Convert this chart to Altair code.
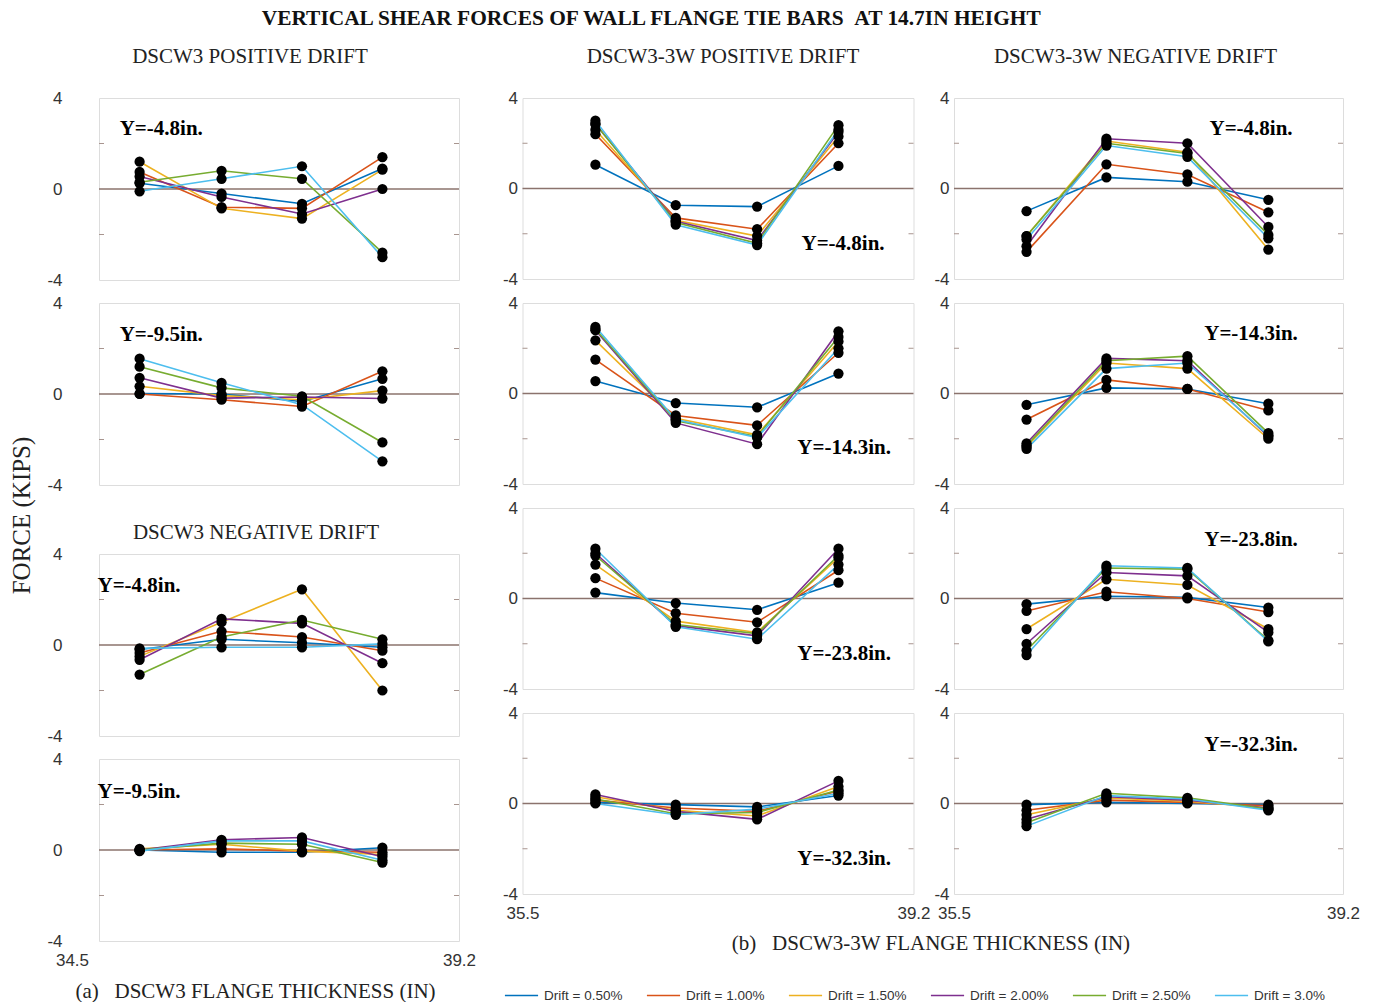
import altair as alt
import pandas as pd

DRIFTS = ["Drift = 0.50%", "Drift = 1.00%", "Drift = 1.50%",
          "Drift = 2.00%", "Drift = 2.50%", "Drift = 3.0%"]
COLORS = ["#0072BD", "#D95319", "#EDB120", "#7E2F8E", "#77AC30", "#4DBEEE"]

# tie-bar positions along the flange (in)
X_DSCW3 = [35.03, 36.10, 37.15, 38.20]
X_DSCW3_3W = [36.19, 36.95, 37.72, 38.49]

# rows: Drift 0.50%, 1.00%, 1.50%, 2.00%, 2.50%, 3.0% ; columns: 4 tie bars (kips)
DSCW3_POS_48 = [[0.25, -0.2, -0.65, 0.9], [0.75, -0.8, -0.85, 1.4], [1.2, -0.85, -1.3, 0.85],
                [0.55, -0.35, -1.1, 0.0], [0.3, 0.8, 0.45, -2.8], [-0.1, 0.45, 1.0, -3.0]]
DSCW3_POS_95 = [[0.02, 0.0, -0.33, 0.67], [0.0, -0.25, -0.55, 1.0], [0.34, -0.07, -0.25, 0.15],
                [0.71, -0.18, -0.13, -0.2], [1.2, 0.27, -0.1, -2.13], [1.55, 0.49, -0.47, -2.96]]
DSCW3_NEG_48 = [[-0.2, 0.25, 0.1, -0.1], [-0.35, 0.6, 0.35, -0.25], [-0.5, 1.0, 2.45, -2.0],
                [-0.65, 1.15, 0.95, -0.8], [-1.3, 0.35, 1.1, 0.25], [-0.15, -0.1, -0.1, 0.05]]
DSCW3_NEG_95 = [[0.0, -0.1, -0.1, 0.1], [0.0, 0.05, -0.05, -0.1], [0.05, 0.25, -0.05, -0.2],
                [0.0, 0.45, 0.55, -0.3], [0.0, 0.3, 0.25, -0.55], [-0.05, 0.4, 0.4, -0.45]]

W3_POS_48 = [[1.05, -0.74, -0.8, 1.0], [2.4, -1.3, -1.8, 2.0], [2.6, -1.4, -2.1, 2.3],
             [2.85, -1.45, -2.3, 2.5], [2.85, -1.5, -2.42, 2.8], [3.0, -1.6, -2.5, 2.6]]
W3_POS_143 = [[0.55, -0.42, -0.61, 0.88], [1.5, -0.97, -1.41, 1.8], [2.35, -1.1, -1.83, 2.3],
              [2.8, -1.3, -2.24, 2.75], [2.85, -1.2, -1.9, 2.5], [2.95, -1.15, -1.95, 2.0]]
W3_POS_238 = [[0.26, -0.2, -0.5, 0.7], [0.9, -0.65, -1.05, 1.25], [1.5, -1.0, -1.5, 1.8],
              [2.0, -1.2, -1.65, 2.2], [1.9, -1.15, -1.55, 1.9], [2.2, -1.25, -1.8, 1.5]]
W3_POS_323 = [[0.05, -0.05, -0.15, 0.35], [0.15, -0.2, -0.35, 0.55], [0.3, -0.3, -0.55, 0.75],
              [0.4, -0.35, -0.7, 1.0], [0.2, -0.45, -0.4, 0.6], [0.0, -0.5, -0.25, 0.45]]

W3_NEG_48 = [[-1.0, 0.49, 0.3, -0.5], [-2.8, 1.07, 0.62, -1.05], [-2.1, 2.1, 1.6, -2.7],
             [-2.55, 2.2, 2.0, -1.7], [-2.1, 2.0, 1.55, -2.05], [-2.25, 1.9, 1.4, -2.2]]
W3_NEG_143 = [[-0.5, 0.25, 0.2, -0.45], [-1.15, 0.6, 0.2, -0.75], [-2.35, 1.35, 1.1, -2.0],
              [-2.2, 1.55, 1.45, -1.9], [-2.3, 1.45, 1.65, -1.75], [-2.45, 1.1, 1.35, -1.85]]
W3_NEG_238 = [[-0.25, 0.1, 0.05, -0.4], [-0.55, 0.3, 0.0, -0.6], [-1.35, 0.85, 0.6, -1.35],
              [-2.0, 1.15, 1.0, -1.5], [-2.3, 1.35, 1.3, -1.85], [-2.5, 1.45, 1.35, -1.9]]
W3_NEG_323 = [[-0.05, 0.05, 0.0, -0.05], [-0.3, 0.15, 0.05, -0.1], [-0.5, 0.25, 0.1, -0.2],
              [-0.7, 0.3, 0.15, -0.2], [-0.85, 0.45, 0.25, -0.25], [-1.0, 0.35, 0.2, -0.3]]

FRAME = "#a8958f"
ZERO = "#8b736d"
SERIF = "Liberation Serif"
SANS = "Liberation Sans"
NB = "\u00a0"

LEGEND = alt.Legend(orient="none", legendX=405, legendY=880, direction="horizontal",
                    columns=6, title=None, symbolType="stroke", symbolSize=1100,
                    symbolStrokeWidth=1.5, labelFont=SANS, labelFontSize=13.5,
                    labelColor="#333", columnPadding=20, labelOffset=5)


def make_df(vals, xs):
    rows = []
    for d, series in zip(DRIFTS, vals):
        for i, (x, v) in enumerate(zip(xs, series)):
            rows.append({"drift": d, "x": x, "f": v, "i": i})
    return pd.DataFrame(rows)


def panel(vals, xs, xdom, label, lpos, w, h, ypad, xlabels=None, xtitle=None,
          xtitle_x=None, title=None, label_shift=0):
    df = make_df(vals, xs)
    if xlabels is not None:
        ax = dict(values=xlabels, labelExpr="format(datum.value, '.1f')", labelFlush=False,
                  ticks=False, domain=False,
                  grid=False, labelFont=SANS, labelFontSize=17, labelColor="#333",
                  labelPadding=11,
                  labelOffset={"condition": {"test": "datum.value < 35", "value": label_shift},
                               "value": 0})
        if xtitle:
            ax.update(titleFont=SERIF, titleFontSize=21, titleFontWeight="normal",
                      titleColor="#222", titlePadding=12)
            if xtitle_x is not None:
                ax.update(titleX=xtitle_x, titleAlign="center")
        X = alt.X("x:Q", scale=alt.Scale(domain=xdom, nice=False, zero=False),
                  axis=alt.Axis(**ax), title=xtitle if xtitle else None)
    else:
        X = alt.X("x:Q", scale=alt.Scale(domain=xdom, nice=False, zero=False), axis=None)
    Y = alt.Y("f:Q", scale=alt.Scale(domain=[-4, 4], nice=False),
              axis=alt.Axis(values=[-4, 0, 4], labelExpr="'' + datum.value", ticks=False,
                            domain=False, grid=False,
                            labelFont=SANS, labelFontSize=17, labelColor="#333",
                            labelPadding=ypad, title=None))
    zero = alt.Chart(pd.DataFrame({"f": [0]})).mark_rule(color=ZERO, strokeWidth=1.3).encode(y=Y)
    tk = pd.DataFrame({"f": [-2, 2]})
    tl = alt.Chart(tk).mark_rule(color=FRAME, strokeWidth=1).encode(
        y=Y, x=alt.value(0), x2=alt.value(5))
    tr = alt.Chart(tk).mark_rule(color=FRAME, strokeWidth=1).encode(
        y=Y, x=alt.value(w - 5), x2=alt.value(w))
    lines = alt.Chart(df).mark_line(strokeWidth=1.6).encode(
        x=X, y=Y,
        color=alt.Color("drift:N", scale=alt.Scale(domain=DRIFTS, range=COLORS), legend=LEGEND),
        detail="drift:N", order="i:Q")
    pts = alt.Chart(df).mark_circle(size=105, color="black", opacity=1).encode(x=X, y=Y)
    lab = alt.Chart(pd.DataFrame({"x": [lpos[0]], "f": [lpos[1]], "t": [label]})).mark_text(
        align="left", baseline="middle", font=SERIF, fontSize=21, fontWeight="bold",
        color="black").encode(x=X, y=Y, text="t:N")
    props = dict(width=w, height=h)
    if title is not None:
        props["title"] = title
    return alt.layer(zero, tl, tr, lines, pts, lab).properties(**props)


def ctitle(text, offset, dx):
    return alt.Title(text=text, font=SERIF, fontSize=21, fontWeight="normal", color="#222",
                     anchor="middle", offset=offset, dx=dx)


LW, LH = 360, 182
MW, RW, H = 391, 389, 181
LDOM = [34.5, 39.2]
RDOM = [35.5, 39.2]

L1 = panel(DSCW3_POS_48, X_DSCW3, LDOM, "Y=-4.8in.", (34.77, 2.64), LW, LH, 37,
           title=ctitle("DSCW3 POSITIVE DRIFT", 22, -29))
L2 = panel(DSCW3_POS_95, X_DSCW3, LDOM, "Y=-9.5in.", (34.77, 2.6), LW, LH, 37)
L3 = panel(DSCW3_NEG_48, X_DSCW3, LDOM, "Y=-4.8in.", (34.48, 2.6), LW, LH, 37,
           title=ctitle("DSCW3 NEGATIVE DRIFT", 2, -23))
L4 = panel(DSCW3_NEG_95, X_DSCW3, LDOM, "Y=-9.5in.", (34.48, 2.55), LW, LH, 37,
           xlabels=[34.5, 39.2], xtitle="(a)" + NB * 3 + "DSCW3 FLANGE THICKNESS (IN)",
           xtitle_x=156, label_shift=-27)

M1 = panel(W3_POS_48, X_DSCW3_3W, RDOM, "Y=-4.8in.", (38.14, -2.46), MW, H, 5,
           title=ctitle("DSCW3-3W POSITIVE DRIFT", 22, 5))
M2 = panel(W3_POS_143, X_DSCW3_3W, RDOM, "Y=-14.3in.", (38.1, -2.39), MW, H, 5)
M3 = panel(W3_POS_238, X_DSCW3_3W, RDOM, "Y=-23.8in.", (38.1, -2.46), MW, H, 5)
M4 = panel(W3_POS_323, X_DSCW3_3W, RDOM, "Y=-32.3in.", (38.1, -2.46), MW, H, 5,
           xlabels=[35.5, 39.2])

R1 = panel(W3_NEG_48, X_DSCW3_3W, RDOM, "Y=-4.8in.", (37.93, 2.62), RW, H, 5,
           title=ctitle("DSCW3-3W NEGATIVE DRIFT", 22, -13))
R2 = panel(W3_NEG_143, X_DSCW3_3W, RDOM, "Y=-14.3in.", (37.88, 2.61), RW, H, 5)
R3 = panel(W3_NEG_238, X_DSCW3_3W, RDOM, "Y=-23.8in.", (37.88, 2.58), RW, H, 5)
R4 = panel(W3_NEG_323, X_DSCW3_3W, RDOM, "Y=-32.3in.", (37.88, 2.58), RW, H, 5,
           xlabels=[35.5, 39.2])

left_top = alt.vconcat(L1, L2, spacing=4)
left_bot = alt.vconcat(L3, L4, spacing=4)
left_col = alt.vconcat(left_top, left_bot, spacing=27,
                       title=alt.Title(text="FORCE (KIPS)", orient="left", font=SERIF,
                                       fontSize=25, fontWeight="normal", color="#222",
                                       anchor="middle", offset=11, dx=8))
mid_col = alt.vconcat(M1, M2, M3, M4, spacing=5)
right_col = alt.vconcat(R1, R2, R3, R4, spacing=5)
right_block = alt.hconcat(mid_col, right_col, spacing=1.5,
                          title=alt.Title(text="(b)" + NB * 3 + "DSCW3-3W FLANGE THICKNESS (IN)",
                                          orient="bottom", font=SERIF, fontSize=21,
                                          fontWeight="normal", color="#222",
                                          anchor="middle", offset=11))

chart = alt.hconcat(left_col, right_block, spacing=24.5).properties(
    title=alt.Title(text="VERTICAL SHEAR FORCES OF WALL FLANGE TIE BARS" + NB * 2 + "AT 14.7IN HEIGHT",
                    font=SERIF, fontSize=21.4, fontWeight="bold", color="#111",
                    anchor="middle", offset=16, dx=-34),
    padding={"left": 10, "top": 8, "right": 5, "bottom": 0},
).resolve_scale(color="shared").configure_view(
    stroke=FRAME, strokeWidth=1, fill="white"
).configure(background="white")

chart.save("out.html", embed_options={"renderer": "svg", "actions": False})
